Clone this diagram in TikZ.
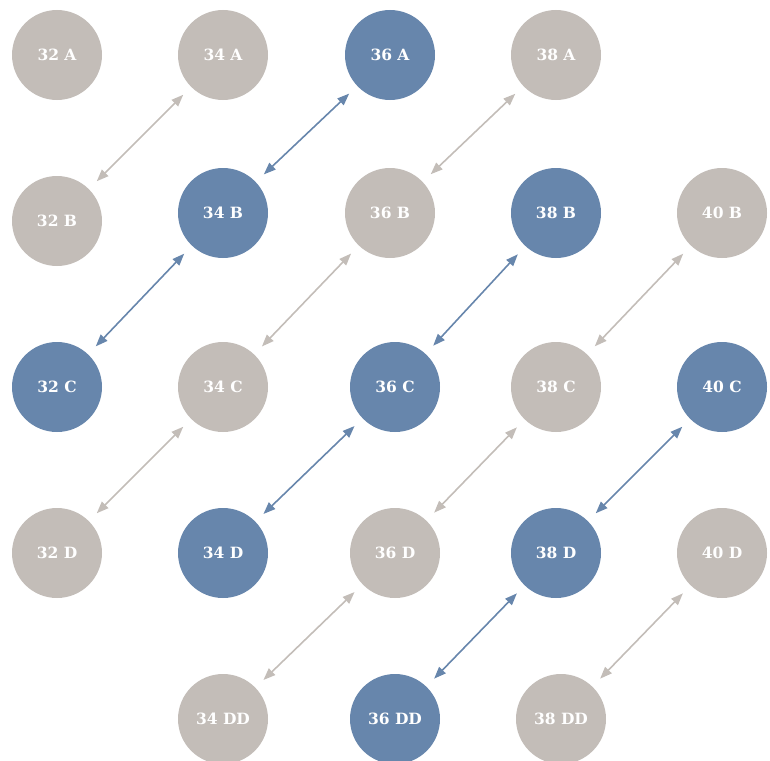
\documentclass[tikz,border=0pt]{standalone}
\usepackage{fontspec}
\setmainfont{DejaVu Serif}
\usetikzlibrary{arrows.meta}
\definecolor{cgray}{HTML}{C3BDB8}
\definecolor{cblue}{HTML}{6786AC}
\begin{document}
\begin{tikzpicture}[x=1pt,y=-1pt,
 circ/.style={circle, minimum size=90pt, inner sep=0pt, text=white, font=\bfseries\fontsize{15.5}{16}\selectfont},
 gnode/.style={circ, fill=cgray},
 bnode/.style={circ, fill=cblue},
 link/.style={arrows={Triangle[length=12pt,width=9pt]-Triangle[length=12pt,width=9pt]}, line width=1.6pt, shorten <=11pt, shorten >=11pt},
 glink/.style={link, draw=cgray},
 blink/.style={link, draw=cblue}]
\useasboundingbox (0,0) rectangle (770,760);
% row A
\node[gnode] (32A) at (57,55) {32 A};
\node[gnode] (34A) at (223,55) {34 A};
\node[bnode] (36A) at (390,55) {36 A};
\node[gnode] (38A) at (556,55) {38 A};
% row B
\node[gnode] (32B) at (57,221) {32 B};
\node[bnode] (34B) at (223,213) {34 B};
\node[gnode] (36B) at (390,213) {36 B};
\node[bnode] (38B) at (556,213) {38 B};
\node[gnode] (40B) at (722,213) {40 B};
% row C
\node[bnode] (32C) at (57,387) {32 C};
\node[gnode] (34C) at (223,387) {34 C};
\node[bnode] (36C) at (395,387) {36 C};
\node[gnode] (38C) at (556,387) {38 C};
\node[bnode] (40C) at (722,387) {40 C};
% row D
\node[gnode] (32D) at (57,553) {32 D};
\node[bnode] (34D) at (223,553) {34 D};
\node[gnode] (36D) at (395,553) {36 D};
\node[bnode] (38D) at (556,553) {38 D};
\node[gnode] (40D) at (722,553) {40 D};
% row DD
\node[gnode] (34DD) at (223,719) {34 DD};
\node[bnode] (36DD) at (395,719) {36 DD};
\node[gnode] (38DD) at (561,719) {38 DD};
% links
\draw[glink] (32B) -- (34A);
\draw[blink] (34B) -- (36A);
\draw[glink] (36B) -- (38A);
\draw[blink] (32C) -- (34B);
\draw[glink] (34C) -- (36B);
\draw[blink] (36C) -- (38B);
\draw[glink] (38C) -- (40B);
\draw[glink] (32D) -- (34C);
\draw[blink] (34D) -- (36C);
\draw[glink] (36D) -- (38C);
\draw[blink] (38D) -- (40C);
\draw[glink] (34DD) -- (36D);
\draw[blink] (36DD) -- (38D);
\draw[glink] (38DD) -- (40D);
\end{tikzpicture}
\end{document}
